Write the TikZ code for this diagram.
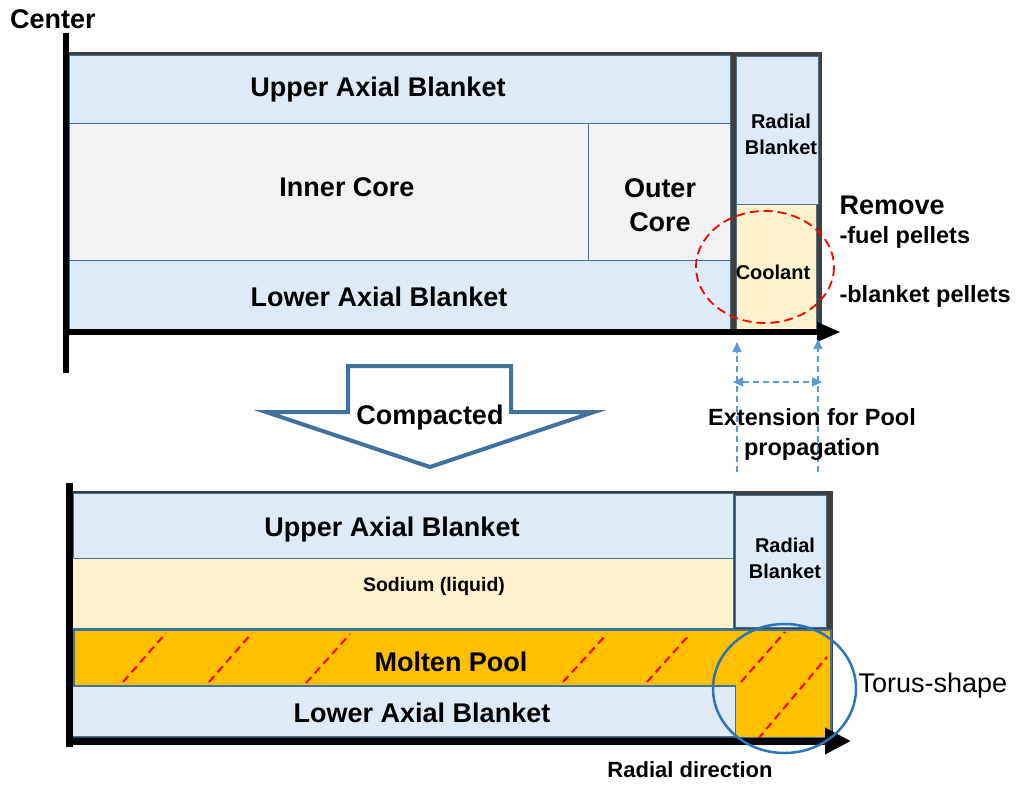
\documentclass[tikz,border=0pt]{standalone}
\usepackage{fontspec}
\setmainfont{Liberation Sans}
\usetikzlibrary{positioning, arrows.meta}
\definecolor{blanketblue}{HTML}{DEEBF7}
\definecolor{edgeblue}{HTML}{41719C}
\definecolor{coregray}{HTML}{F2F2F2}
\definecolor{coolantyellow}{HTML}{FFF2CC}
\definecolor{poolorange}{HTML}{FFC000}
\definecolor{extblue}{HTML}{5B9BD5}
\definecolor{torusblue}{HTML}{2E75B6}
\definecolor{framegray}{HTML}{404040}

\begin{document}
\begin{tikzpicture}[x=1pt,y=-1pt,
  region/.style={draw=edgeblue,line width=1.2pt,anchor=north west,inner sep=0pt},
  big/.style={font=\bfseries\fontsize{27}{34}\selectfont,align=center},
  mid/.style={font=\bfseries\fontsize{23.5}{30}\selectfont,align=center},
  small/.style={font=\bfseries\fontsize{20}{26}\selectfont,align=center},
  axisline/.style={line width=6pt},
  ext/.style={extblue,line width=1.6pt,dash pattern=on 6pt off 4pt,
    -{Triangle[length=10pt,width=9pt]}},
  hatch/.style={red,line width=2pt,dash pattern=on 8pt off 5pt}]
\useasboundingbox (0,0) rectangle (1017,785);

% before: top picture
\fill[framegray] (68,52) rectangle (822,332);
\node[region,fill=blanketblue,minimum width=661pt,minimum height=68pt] (uab) at (69,55) {};
\node[region,fill=coregray,minimum width=519pt,minimum height=137pt] (inner) at (69,123) {};
\node[region,fill=coregray,minimum width=142pt,minimum height=137pt] (outer) at (588,123) {};
\node[region,fill=blanketblue,minimum width=661pt,minimum height=70pt] (lab) at (69,260) {};
\node[region,fill=blanketblue,minimum width=82pt,minimum height=148pt] (rb) at (736,56) {};
\node[region,fill=coolantyellow,minimum width=80pt,minimum height=126pt] (coolant) at (736,204) {};

\node[big] (uab-text) at (378,90) {Upper Axial Blanket};
\node[big] (inner-text) at (347,187) {Inner Core};
\node[big] (outer-text) at (660,205) {Outer\\Core};
\node[big] (lab-text) at (379,297) {Lower Axial Blanket};
\node[small] (rb-text) at (781,134) {Radial\\Blanket};
\node[small] (coolant-text) at (773,272) {Coolant};

\coordinate (top1) at (66,33);
\coordinate (bot1) at (66,373);
\coordinate (o1) at (63,332);
\coordinate (end1) at (841,332);
\draw[axisline] (top1) -- (bot1);
\draw[axisline,-{Triangle[length=24pt,width=18pt]}] (o1) -- (end1);

\node[big] (center) at (53,19) {Center};
\draw[red,line width=1.8pt,dash pattern=on 9pt off 5pt] (765,267) ellipse [x radius=69,y radius=56];
\node[big,anchor=base west] (remove) at (836,214) {Remove};
\node[mid,anchor=base west] (fuel) at (836,243) {-fuel pellets};
\node[mid,anchor=base west] (blanket) at (836,302) {-blanket pellets};

% extension arrows
\coordinate (extl-bot) at (737,472);
\coordinate (extl-top) at (737,342);
\coordinate (extr-bot) at (818,472);
\coordinate (extr-top) at (818,339);
\coordinate (extl) at (733,382);
\coordinate (extr) at (822,382);
\draw[ext] (extl-bot) -- (extl-top);
\draw[ext] (extr-bot) -- (extr-top);
\draw[ext,{Triangle[length=10pt,width=9pt]}-{Triangle[length=10pt,width=9pt]}] (extl) -- (extr);
\node[mid] (extension) at (812,434) {Extension for Pool\\propagation};

% compacted arrow
\draw[edgeblue,line width=4pt,fill=white,line join=miter]
  (348,366) -- (511,366) -- (511,412) -- (594,412) -- (430,467)
  -- (266,412) -- (348,412) -- cycle;
\node[big] (compacted) at (430,418) {Compacted};

% after: bottom picture
\fill[framegray] (70,491) rectangle (833,740);
\node[region,fill=blanketblue,minimum width=660pt,minimum height=65pt] (uab2) at (73,493) {};
\node[region,fill=coolantyellow,minimum width=661pt,minimum height=70pt] (sodium) at (72,558) {};
\node[region,fill=blanketblue,minimum width=91pt,minimum height=132pt] (rb2) at (735,495) {};
\filldraw[poolorange,draw=edgeblue,line width=1.2pt]
  (74,630) -- (831,630) -- (831,738) -- (735,738) -- (735,686) -- (74,686) -- cycle;
\node[region,fill=blanketblue,minimum width=663pt,minimum height=50pt] (lab2) at (72,686) {};

\draw[hatch] (123,682) -- (166,633) (209,682) -- (252,633) (306,683) -- (350,634)
  (563,682) -- (607,634) (647,682) -- (690,634) (741,682) -- (785,632)
  (758,739) -- (827,657);

\node[big] (uab2-text) at (392,530) {Upper Axial Blanket};
\node[font=\bfseries\fontsize{19.5}{24}\selectfont] (sodium-text) at (434,586) {Sodium (liquid)};
\node[big] (pool-text) at (451,662) {Molten Pool};
\node[big] (lab2-text) at (422,713) {Lower Axial Blanket};
\node[small] (rb2-text) at (785,558) {Radial\\Blanket};

\coordinate (top2) at (69,483);
\coordinate (bot2) at (69,747);
\coordinate (o2) at (66,741);
\coordinate (end2) at (851,741);
\draw[axisline,line width=7pt] (top2) -- (bot2);
\draw[axisline,line width=7pt,-{Triangle[length=26pt,width=25pt]}] (o2) -- (end2);

\draw[torusblue,line width=2.5pt] (784.5,688.5) ellipse [x radius=71.5,y radius=64.5];
\node[font=\fontsize{27}{30}\selectfont,anchor=base west] (torus) at (855,692) {Torus-shape};
\node[font=\bfseries\fontsize{22}{26}\selectfont,anchor=base] (radial) at (690,777) {Radial direction};
\end{tikzpicture}
\end{document}
